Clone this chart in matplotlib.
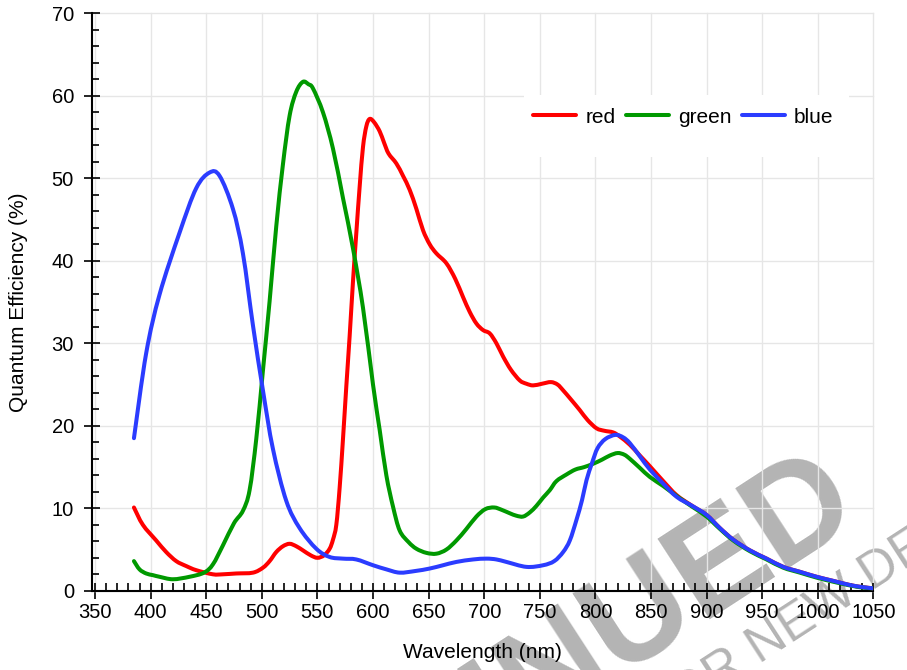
import matplotlib
matplotlib.use("Agg")
import numpy as np
import matplotlib.pyplot as plt
from matplotlib.patches import Rectangle, PathPatch
from matplotlib.path import Path
from matplotlib.lines import Line2D
from matplotlib.ticker import MultipleLocator

plt.rcParams['font.family'] = ['Liberation Sans', 'DejaVu Sans']

# Wavelength (nm) and quantum efficiency (%)
red_nm = [385, 393, 405, 414, 423, 432, 441, 456, 465, 477, 492, 501, 507, 513, 519,
          525, 531, 537, 544, 550, 556, 561, 564, 567, 570, 573, 576, 579, 582, 585,
          588, 591, 594, 597, 601, 606, 610, 614, 621, 627, 633, 639, 645, 651, 657,
          666, 674, 681, 687, 693, 699, 705, 711, 717, 724, 732, 738, 744, 752, 760,
          766, 771, 778, 786, 793, 801, 808, 816, 822, 831, 840, 849, 861, 873, 887,
          900, 912, 924, 939, 954, 969, 984, 999, 1014, 1029, 1040, 1050]
red_qe = [10.1, 8.0, 6.1, 4.7, 3.6, 3.0, 2.5, 2.0, 2.0, 2.1, 2.2, 2.8, 3.6, 4.7, 5.4,
          5.7, 5.4, 4.9, 4.3, 4.0, 4.3, 5.1, 6.2, 8.0, 12.5, 18.4, 24.8, 30.9, 37.5, 43.4,
          49.0, 53.8, 56.3, 57.2, 56.8, 55.7, 54.3, 53.0, 51.8, 50.3, 48.6, 46.3, 43.7, 42.0, 40.9,
          39.7, 37.8, 35.6, 33.8, 32.4, 31.6, 31.2, 30.0, 28.4, 26.8, 25.5, 25.1, 24.9, 25.1, 25.3,
          25.0, 24.3, 23.2, 21.9, 20.7, 19.7, 19.4, 19.2, 18.7, 17.7, 16.4, 15.1, 13.3, 11.6, 10.3,
          9.2, 7.6, 6.2, 4.9, 3.9, 2.9, 2.3, 1.7, 1.2, 0.7, 0.45, 0.3]

green_nm = [385, 390, 396, 402, 408, 420, 435, 448, 456, 465, 475, 483, 489, 495, 501,
            507, 513, 519, 525, 531, 537, 542, 546, 555, 564, 573, 582, 591, 600, 606,
            612, 618, 624, 632, 639, 648, 657, 666, 675, 684, 693, 701, 709, 716, 723,
            729, 735, 741, 747, 753, 759, 765, 774, 782, 790, 798, 806, 813, 820, 826,
            831, 840, 849, 861, 873, 887, 900, 912, 924, 939, 954, 969, 984, 999, 1014,
            1029, 1040, 1050]
green_qe = [3.6, 2.6, 2.1, 1.9, 1.7, 1.4, 1.7, 2.2, 3.2, 5.5, 8.2, 9.7, 12.2, 18.4, 26.7,
            35.1, 44.2, 51.7, 57.6, 60.5, 61.7, 61.4, 60.9, 58.0, 53.6, 47.6, 41.5, 34.3, 25.0, 19.5,
            14.0, 10.2, 7.3, 5.9, 5.1, 4.6, 4.5, 5.0, 6.1, 7.5, 9.0, 9.9, 10.1, 9.8, 9.4,
            9.1, 9.0, 9.5, 10.3, 11.3, 12.2, 13.3, 14.1, 14.7, 15.0, 15.4, 15.9, 16.4, 16.7, 16.5,
            16.0, 14.9, 13.8, 12.7, 11.5, 10.2, 9.0, 7.5, 6.1, 4.8, 3.8, 2.8, 2.2, 1.6, 1.1,
            0.65, 0.4, 0.3]

blue_nm = [385, 396, 408, 426, 441, 453, 462, 474, 483, 492, 501, 510, 522, 534, 549,
           561, 573, 585, 600, 612, 624, 638, 651, 663, 675, 690, 702, 711, 720, 738,
           753, 763, 771, 777, 783, 788, 792, 797, 802, 809, 818, 825, 831, 840, 849,
           861, 873, 887, 900, 912, 924, 939, 954, 969, 984, 999, 1014, 1029, 1040, 1050]
blue_qe = [18.5, 28.8, 35.9, 43.4, 48.8, 50.7, 50.3, 46.3, 40.9, 32.2, 24.3, 17.2, 10.9, 7.6, 5.1,
           4.1, 3.9, 3.8, 3.1, 2.6, 2.2, 2.4, 2.7, 3.1, 3.5, 3.8, 3.9, 3.8, 3.5, 2.9,
           3.1, 3.6, 4.7, 6.1, 8.6, 11.0, 13.4, 15.5, 17.3, 18.4, 18.9, 18.6, 17.9, 16.3, 14.7,
           13.0, 11.4, 10.3, 9.2, 7.6, 6.2, 4.9, 3.9, 2.9, 2.3, 1.7, 1.2, 0.7, 0.45, 0.3]

series = [("red", red_nm, red_qe, '#ff0000'),
          ("green", green_nm, green_qe, '#009900'),
          ("blue", blue_nm, blue_qe, '#2b3cff')]


def spline_path(x, y):
    """ Catmull-Rom spline through the points, drawn as bezier segments. """
    pts = np.column_stack([x, y]).astype(float)
    verts = [pts[0]]
    codes = [Path.MOVETO]
    n = len(pts)
    for i in range(n - 1):
        p0 = pts[i - 1] if i > 0 else pts[i]
        p1 = pts[i]
        p2 = pts[i + 1]
        p3 = pts[i + 2] if i + 2 < n else pts[i + 1]
        verts += [p1 + (p2 - p0) / 6, p2 - (p3 - p1) / 6, p2]
        codes += [Path.CURVE4] * 3
    return Path(verts, codes)


fig = plt.figure(figsize=(9.07, 6.70), dpi=100)
ax = fig.add_axes([0.1011, 0.1182, 0.8618, 0.8619])
ax.patch.set_alpha(0)

# watermark behind everything
fig.text(0.9515, 0.234, "DISCONTINUED", fontsize=100, fontweight='bold', color='#b4b4b4',
         rotation=33, rotation_mode='anchor', ha='right', va='baseline', zorder=-5)
fig.text(0.612, -0.190, "NOT FOR NEW DESIGN", fontsize=37, color='#b4b4b4',
         rotation=33, rotation_mode='anchor', ha='left', va='baseline', zorder=-5)

handles = []
for name, xs, ys, col in series:
    ax.add_patch(PathPatch(spline_path(xs, ys), fill=False, edgecolor=col, lw=2.9,
                           capstyle='round', joinstyle='round', zorder=3))
    handles.append(Line2D([], [], color=col, lw=2.9, solid_capstyle='round', label=name))

ax.set_xlim(347, 1050)
ax.set_ylim(0, 70)
ax.xaxis.set_major_locator(MultipleLocator(50))
ax.xaxis.set_minor_locator(MultipleLocator(10))
ax.yaxis.set_major_locator(MultipleLocator(10))
ax.yaxis.set_minor_locator(MultipleLocator(2))

ax.grid(True, which='major', color='#e6e6e6', lw=1.0, clip_on=False)
ax.set_axisbelow(True)

for s in ['top', 'right']:
    ax.spines[s].set_visible(False)
for s in ['left', 'bottom']:
    ax.spines[s].set_linewidth(1.5)

ax.tick_params(which='major', direction='inout', length=11.5, width=1.2, labelsize=14.5)
ax.tick_params(axis='x', which='major', pad=3)
ax.tick_params(axis='y', which='major', pad=7)
ax.tick_params(axis='x', which='minor', direction='in', length=5.8, width=1.2)
ax.tick_params(axis='y', which='minor', direction='in', length=4.8, width=1.2)

ax.set_xlabel("Wavelength (nm)", fontsize=15, labelpad=15)
ax.set_ylabel("Quantum Efficiency (%)", fontsize=15, labelpad=17)

# white box behind legend hides the grid
ax.add_patch(Rectangle((0.553, 0.751), 0.416, 0.1075, transform=ax.transAxes,
                       facecolor='white', edgecolor='none', zorder=1))
ax.legend(handles=handles, loc='center', bbox_to_anchor=(0.757, 0.820), ncol=3,
          frameon=False, fontsize=15, handlelength=2.07, handletextpad=0.43,
          columnspacing=0.5)

fig.savefig("out.png", dpi=100)
